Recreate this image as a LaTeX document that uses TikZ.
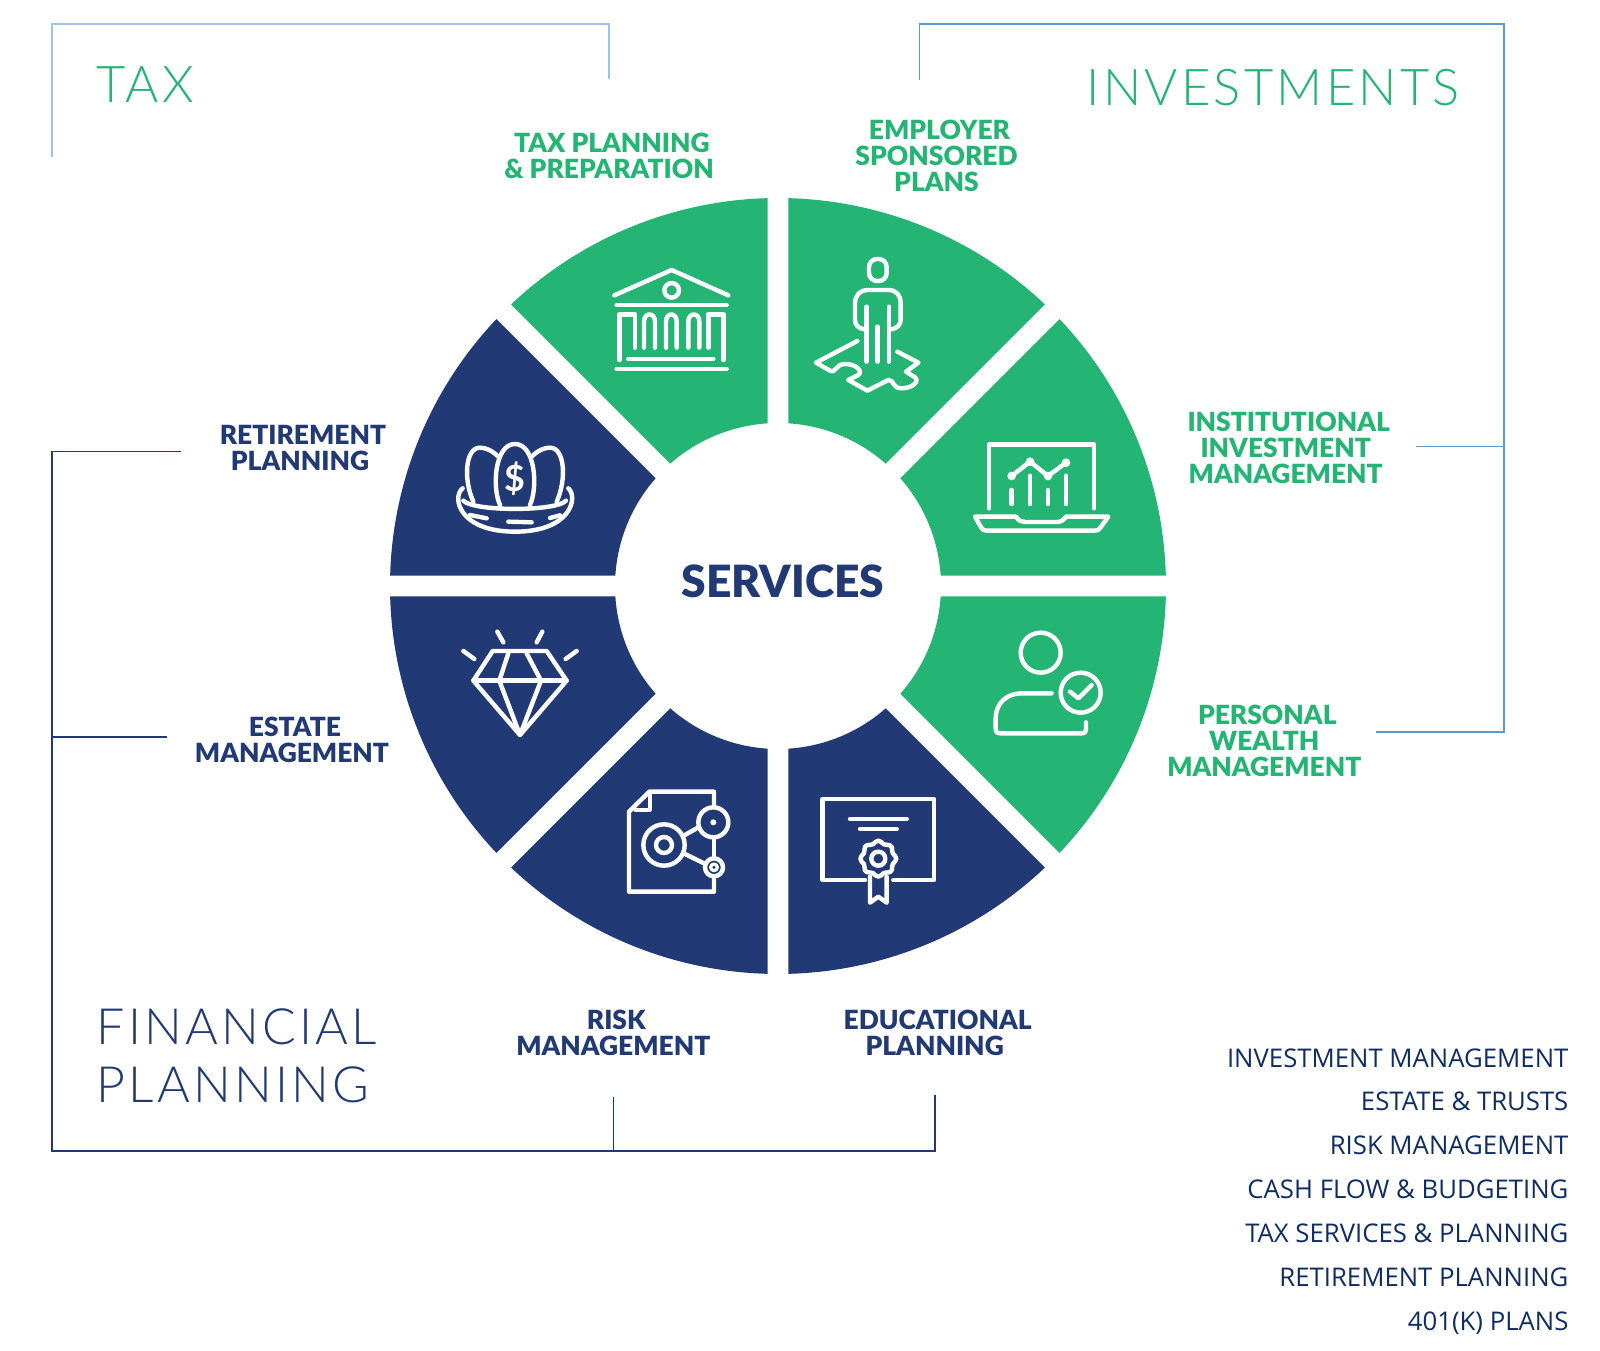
\documentclass[tikz,border=0pt]{standalone}
\usepackage{fontspec}
\setmainfont{Lato}
\newfontfamily\thinfont[LetterSpace=6.5]{Lato Light}
\newfontfamily\heavyfont{Lato Black}
\newfontfamily\listfont{Open Sans}
\newcommand{\firstln}{\hspace*{4.5pt}}
\definecolor{brandgreen}{RGB}{36,180,115}
\definecolor{brandnavy}{RGB}{33,57,117}
\definecolor{listnavy}{RGB}{15,45,99}
\definecolor{paleblue}{RGB}{157,195,230}
\definecolor{midblue}{RGB}{91,155,213}
\tikzset{
  every picture/.style={line width=0.9pt},
  iconline/.style={draw=white,line width=3.3pt,line cap=round,line join=round},
  thinline/.style={iconline,line width=2.4pt},
  sectorlabel/.style={font=\heavyfont\fontsize{19.8}{19.7}\selectfont,align=center,inner sep=0pt},
  bigtitle/.style={font=\thinfont\fontsize{38}{43}\selectfont,align=left,inner sep=0pt,anchor=base west},
  listitem/.style={font=\listfont\fontsize{19.3}{19.3}\selectfont,text=listnavy,inner sep=0pt,anchor=base east},
}

\begin{document}
\begin{tikzpicture}[x=0.75pt,y=0.75pt,yscale=-1,xscale=1]
\useasboundingbox (0,0) rectangle (1600,1351);

%Shape: Ring sectors
\foreach \a/\c in {-135/brandgreen,-90/brandgreen,-45/brandgreen,0/brandgreen,45/brandnavy,90/brandnavy,135/brandnavy,180/brandnavy}{
  \fill[\c,shift={(778,586)}] ({\a+1.52}:388) arc[start angle=\a+1.52,end angle=\a+43.48,radius=388] -- ({\a+41.38}:163) arc[start angle=\a+41.38,end angle=\a+3.62,radius=163] -- cycle;
}

%Bank icon
\begin{scope}[shift={(380,180)},x=0.25pt,y=0.25pt]
\draw[iconline] (703,346) -- (875,270) -- (1045,346);
\draw[iconline] (875,331) circle [radius=22];
\draw[iconline] (710,375) -- (1040,375);
\draw[iconline] (718,540) -- (718,403) -- (765,403) -- (765,503);
\draw[iconline] (985,503) -- (985,403) -- (1030,403) -- (1030,540);
\foreach \u/\v in {792/825,858/890,925/958}{
  \draw[iconline] (\u,503) -- (\u,425) .. controls (\u,396) and (\v,396) .. (\v,425) -- (\v,503);
}
\draw[iconline] (745,537) -- (1000,537);
\draw[iconline] (710,567) -- (1040,567);

%Nest icon
\draw[iconline] (360,975) .. controls (335,920) and (345,792) .. (405,792) .. controls (465,792) and (475,920) .. (450,975);
\draw[iconline] (355,830) .. controls (335,810) and (315,803) .. (300,803) .. controls (255,803) and (250,900) .. (280,965);
\draw[iconline] (455,830) .. controls (475,810) and (495,803) .. (510,803) .. controls (555,803) and (560,900) .. (530,965);
\draw[iconline] (248,925) .. controls (215,950) and (235,1055) .. (405,1055) .. controls (575,1055) and (595,950) .. (565,925);
\draw[iconline] (250,962) .. controls (280,995) and (530,995) .. (558,962);
\draw[iconline] (270,1005) -- (320,1015);
\draw[iconline] (385,1025) -- (455,1027);
\draw[iconline] (510,1014) -- (540,1006);
\node (dollarsign) [text=white,inner sep=0pt,font=\bfseries\fontsize{27}{27}\selectfont] at (405,895) {\$};
\end{scope}

%Person icon
\begin{scope}[shift={(780,180)},x=0.25pt,y=0.25pt]
\draw[iconline,rounded corners=6pt] (267,237) rectangle (320,303);
\draw[iconline] (253,448) .. controls (235,445) and (225,435) .. (225,420) -- (225,370) .. controls (225,345) and (240,330) .. (265,330) -- (325,330) .. controls (348,330) and (362,345) .. (362,370) -- (362,420) .. controls (362,435) and (350,445) .. (335,448);
\draw[iconline] (260,380) -- (260,545);
\draw[iconline] (327,380) -- (327,545);
\draw[iconline] (293,440) -- (293,545);
\draw[iconline] (232,483) -- (108,548) -- (150,572) .. controls (170,580) and (165,552) .. (195,552) .. controls (230,552) and (250,575) .. (235,585) -- (205,600) -- (262,632) -- (325,600) .. controls (345,600) and (335,625) .. (365,625) .. controls (395,625) and (420,605) .. (405,592) -- (378,575) -- (415,548) -- (352,515);

%Laptop icon
\draw[iconline] (627,985) -- (627,793) -- (942,793) -- (942,985);
\draw[iconline] (695,930) -- (695,972);
\draw[iconline] (750,887) -- (750,972);
\draw[iconline] (804,930) -- (804,972);
\draw[iconline] (858,887) -- (858,972);
\draw[iconline] (695,888) -- (750,845) -- (804,888) -- (858,848);
\foreach \u/\v in {695/888,750/845,804/888,858/848}{
  \fill[white] (\u,\v) circle [radius=13];
}
\draw[iconline] (585,1010) -- (708,1010) .. controls (715,1022) and (725,1026) .. (735,1026) -- (830,1026) .. controls (842,1026) and (850,1022) .. (858,1010) -- (985,1010) -- (962,1042) .. controls (955,1052) and (950,1052) .. (940,1052) -- (625,1052) .. controls (612,1052) and (608,1050) .. (602,1040) -- cycle;
\end{scope}

%Diamond icon
\begin{scope}[shift={(380,590)},x=0.25pt,y=0.25pt]
\draw[iconline] (352,125) -- (370,157);
\draw[iconline] (487,125) -- (470,157);
\draw[iconline] (250,183) -- (283,207);
\draw[iconline] (590,183) -- (557,207);
\draw[iconline] (338,183) -- (500,183) -- (560,272) -- (420,435) -- (280,272) -- cycle;
\draw[iconline] (280,272) -- (560,272);
\draw[iconline] (385,190) -- (358,272) -- (420,435) -- (483,272) -- (440,190);

%Document icon
\draw[iconline] (1002,650) -- (1002,605) -- (808,605) -- (747,665) -- (747,905) -- (1002,905) -- (1002,865);
\draw[thinline] (810,612) -- (810,660) -- (765,660);
\draw[iconline] (1002,745) -- (1002,800);
\draw[iconline] (852,765) circle [radius=62];
\draw[iconline] (852,765) circle [radius=24];
\draw[iconline] (1000,697) circle [radius=45];
\fill[white] (1000,697) circle [radius=9];
\draw[iconline] (1002,832) circle [radius=27];
\draw[thinline] (1002,832) circle [radius=10];
\draw[iconline] (915,735) -- (955,712);
\draw[iconline] (915,792) -- (972,820);
\end{scope}

%Certificate icon
\begin{scope}[shift={(780,590)},x=0.25pt,y=0.25pt]
\draw[iconline] (255,870) -- (128,870) -- (128,627) -- (462,627) -- (462,870) -- (340,870);
\draw[iconline] (210,687) -- (380,687);
\draw[iconline] (240,717) -- (350,717);
\draw[iconline,smooth cycle] plot[domain=0:350,samples=36] ({295+(50+4*cos(8*\x))*cos(\x)},{806+(50+4*cos(8*\x))*sin(\x)});
\draw[iconline] (295,806) circle [radius=21];
\draw[iconline] (270,860) -- (270,938) -- (295,920) -- (320,938) -- (320,860);

%User check icon
\draw[iconline] (782,188) circle [radius=60];
\draw[iconline] (902,308) circle [radius=60];
\draw[iconline] (870,305) -- (895,325) -- (935,285);
\draw[iconline] (815,310) -- (725,310) .. controls (680,310) and (647,340) .. (647,385) -- (647,415) .. controls (647,425) and (650,430) .. (662,430) -- (905,430) .. controls (915,430) and (918,425) .. (918,415) -- (918,397);
\end{scope}

%Bracket TAX
\coordinate (taxstart) at (52,157);
\coordinate (taxleft) at (52,24);
\coordinate (taxright) at (609,24);
\coordinate (taxend) at (609,79);
\draw[paleblue] (taxstart) -- (taxleft) -- (taxright) -- (taxend);

%Bracket INVESTMENTS
\coordinate (invstart) at (919.5,80);
\coordinate (invtop) at (919.5,24);
\coordinate (invright) at (1504,24);
\coordinate (invlow) at (1504,732);
\coordinate (invend) at (1376,732);
\coordinate (invmid) at (1504,446.5);
\coordinate (invbranch) at (1416,446.5);
\draw[midblue] (invstart) -- (invtop) -- (invright) -- (invlow) -- (invend);
\draw[midblue] (invmid) -- (invbranch);

%Bracket FINANCIAL PLANNING
\coordinate (finstart) at (181,451.5);
\coordinate (finleft) at (52,451.5);
\coordinate (finlow) at (52,1151);
\coordinate (finright) at (935,1151);
\coordinate (finend) at (935,1095);
\coordinate (finmid) at (52,737);
\coordinate (finbranch) at (167,737);
\coordinate (finfoot) at (613.5,1151);
\coordinate (finriskend) at (613.5,1097);
\draw[brandnavy] (finstart) -- (finleft) -- (finlow) -- (finright) -- (finend);
\draw[brandnavy] (finmid) -- (finbranch);
\draw[brandnavy] (finfoot) -- (finriskend);

% Text Node
\node (centerlabel) [text=brandnavy,inner sep=0pt,font=\heavyfont\fontsize{33.3}{33.3}\selectfont] at (783,581) {SERVICES};
% Text Node
\node (taxtitle) [bigtitle,text=brandgreen] at (96,103) {TAX};
% Text Node
\node (invtitle) [bigtitle,text=brandgreen] at (1086,106) {INVESTMENTS};
% Text Node
\node (fintitle) [bigtitle,text=brandnavy,font=\thinfont\fontsize{37.5}{43}\selectfont] at (96,1102) {FINANCIAL\\PLANNING};
% Text Node
\node (taxplan) [sectorlabel,text=brandgreen] at (609,156) {\firstln TAX PLANNING\\\& PREPARATION};
% Text Node
\node (employer) [sectorlabel,text=brandgreen] at (936.5,156) {\firstln EMPLOYER\\SPONSORED\\PLANS};
% Text Node
\node (institutional) [sectorlabel,text=brandgreen] at (1285.7,448) {\firstln INSTITUTIONAL\\INVESTMENT\\MANAGEMENT};
% Text Node
\node (personal) [sectorlabel,text=brandgreen] at (1264.3,741) {\firstln PERSONAL\\WEALTH\\MANAGEMENT};
% Text Node
\node (educational) [sectorlabel,text=brandnavy] at (934.7,1033) {\firstln EDUCATIONAL\\PLANNING};
% Text Node
\node (risk) [sectorlabel,text=brandnavy] at (613.3,1033) {\firstln RISK\\MANAGEMENT};
% Text Node
\node (estate) [sectorlabel,text=brandnavy] at (292,740) {\firstln ESTATE\\MANAGEMENT};
% Text Node
\node (retirement) [sectorlabel,text=brandnavy] at (300,448) {\firstln RETIREMENT\\PLANNING};

% Text Node
\node (listone) [listitem] at (1569,1067) {INVESTMENT MANAGEMENT};
\node (listtwo) [listitem] at (1569,1110) {ESTATE \& TRUSTS};
\node (listthree) [listitem] at (1569,1154) {RISK MANAGEMENT};
\node (listfour) [listitem] at (1569,1198) {CASH FLOW \& BUDGETING};
\node (listfive) [listitem] at (1569,1242) {TAX SERVICES \& PLANNING};
\node (listsix) [listitem] at (1569,1286) {RETIREMENT PLANNING};
\node (listseven) [listitem] at (1569,1330) {401(K) PLANS};

\end{tikzpicture}
\end{document}
